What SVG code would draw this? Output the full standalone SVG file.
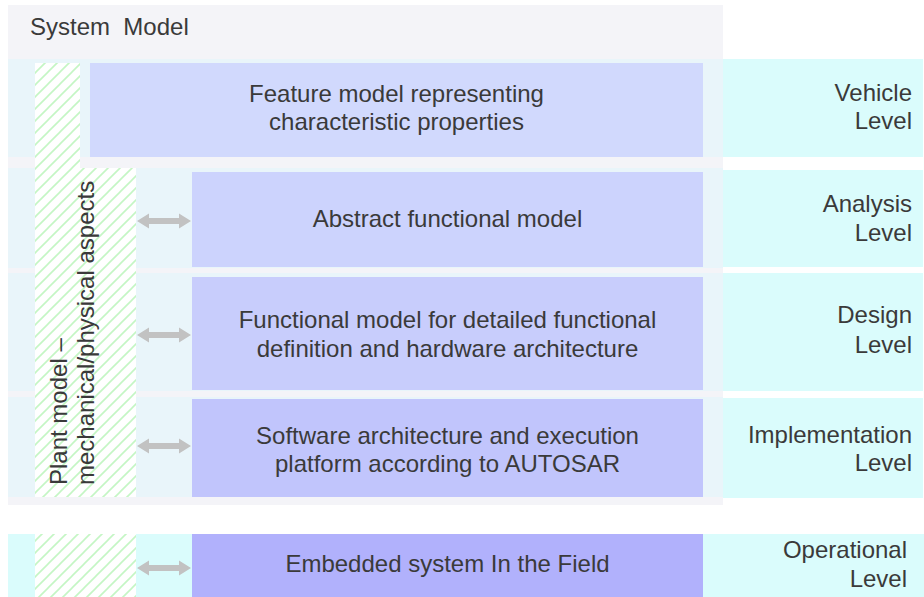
<svg xmlns="http://www.w3.org/2000/svg" width="924" height="597" viewBox="0 0 924 597">
<style>
text{font-family:"Liberation Sans",Arial,sans-serif;font-size:24px;fill:#3a3a3a}
.c{text-anchor:middle}
.r{text-anchor:end}
.band{fill:#e9f5fa}
.cyan{fill:#dafcfc}
.arrow{fill:#c2c2c2}
</style>
<defs>
<pattern id="hatch" patternUnits="userSpaceOnUse" width="12" height="12">
<rect width="12" height="12" fill="#ffffff"/>
<path d="M0,12 L12,0 M-3,3 L3,-3 M9,15 L15,9" stroke="#c4f6c4" stroke-width="1.6"/>
</pattern>
<path id="dbl" d="M0,0 L12,-7.5 L12,-3 L42,-3 L42,-7.5 L54,0 L42,7.5 L42,3 L12,3 L12,7.5 Z"/>
</defs>
<rect width="924" height="597" fill="#ffffff"/>
<g id="system-model">
<rect x="8" y="5" width="715" height="500" fill="#f4f4f8"/>
<text x="30" y="35" style="white-space:pre">System  Model</text>
<rect class="band" x="8" y="59" width="715" height="98"/>
<rect class="band" x="8" y="168" width="715" height="100"/>
<rect class="band" x="8" y="273" width="715" height="118"/>
<rect class="band" x="8" y="397" width="715" height="100"/>
</g>
<g id="operational-band">
<rect class="cyan" x="8" y="534" width="916" height="63"/>
</g>
<g id="plant-model">
<path d="M35,63 L80,63 L80,168 L136,168 L136,497 L35,497 Z" fill="url(#hatch)"/>
<rect x="35" y="534" width="101" height="63" fill="url(#hatch)"/>
<text transform="translate(67,485) rotate(-90)">Plant model –</text>
<text transform="translate(94,485) rotate(-90)">mechanical/physical aspects</text>
</g>
<g id="feature-model">
<rect x="90" y="63" width="613" height="94" fill="#d1d9fd"/>
<text class="c" x="396.5" y="102">Feature model representing</text>
<text class="c" x="396.5" y="130">characteristic properties</text>
</g>
<g id="abstract-functional-model">
<rect x="192" y="172" width="511" height="95" fill="#ccd3fd"/>
<text class="c" x="447.5" y="227">Abstract functional model</text>
</g>
<g id="functional-model">
<rect x="192" y="277" width="511" height="113" fill="#c8cdfc"/>
<text class="c" x="447.5" y="328">Functional model for detailed functional</text>
<text class="c" x="447.5" y="357">definition and hardware architecture</text>
</g>
<g id="software-architecture">
<rect x="192" y="399" width="511" height="98" fill="#c1c5fc"/>
<text class="c" x="447.5" y="444">Software architecture and execution</text>
<text class="c" x="447.5" y="472">platform according to AUTOSAR</text>
</g>
<g id="embedded-system">
<rect x="192" y="534" width="511" height="63" fill="#b1b1fc"/>
<text class="c" x="447.5" y="572">Embedded system In the Field</text>
</g>
<g id="vehicle-level">
<rect class="cyan" x="723" y="59" width="200" height="98"/>
<text class="r" x="912" y="101">Vehicle</text>
<text class="r" x="912" y="129">Level</text>
</g>
<g id="analysis-level">
<rect class="cyan" x="723" y="170" width="200" height="97"/>
<text class="r" x="912" y="212">Analysis</text>
<text class="r" x="912" y="241">Level</text>
</g>
<g id="design-level">
<rect class="cyan" x="723" y="273" width="200" height="118"/>
<text class="r" x="912" y="323">Design</text>
<text class="r" x="912" y="353">Level</text>
</g>
<g id="implementation-level">
<rect class="cyan" x="723" y="398" width="200" height="100"/>
<text class="r" x="912" y="443">Implementation</text>
<text class="r" x="912" y="471">Level</text>
</g>
<g id="operational-level">
<text class="r" x="907" y="558">Operational</text>
<text class="r" x="907" y="587">Level</text>
</g>
<g id="connectors">
<use href="#dbl" class="arrow" transform="translate(137,221)"/>
<use href="#dbl" class="arrow" transform="translate(137,335)"/>
<use href="#dbl" class="arrow" transform="translate(137,446)"/>
<use href="#dbl" class="arrow" transform="translate(137,568)"/>
</g>
</svg>
